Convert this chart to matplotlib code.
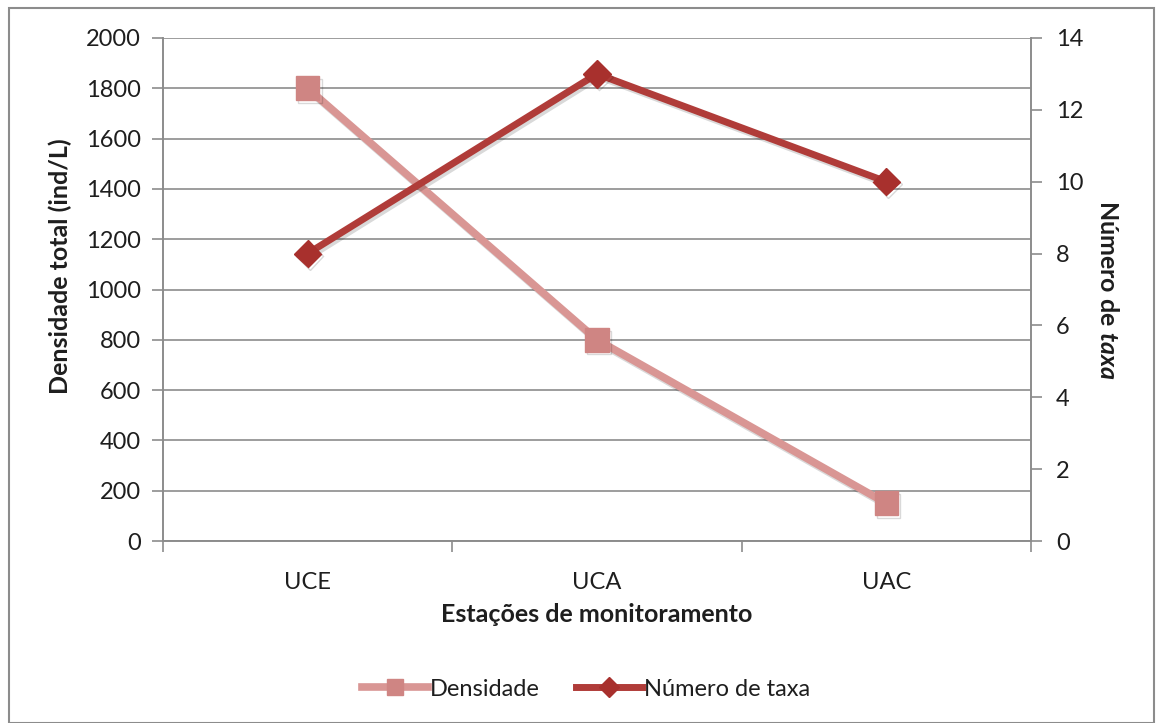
import matplotlib
matplotlib.use("Agg")
import matplotlib.pyplot as plt
import matplotlib.patheffects as pe
from matplotlib.patches import Rectangle
from matplotlib.lines import Line2D

plt.rcParams['font.family'] = ['Lato', 'DejaVu Sans']
plt.rcParams['mathtext.fontset'] = 'custom'
plt.rcParams['mathtext.it'] = 'Lato:bold:italic'
plt.rcParams['mathtext.rm'] = 'Lato:bold'

estacoes = ['UCE', 'UCA', 'UAC']
densidade = [1800, 800, 150]
num_taxa = [8, 13, 10]

c_dens_line = '#D99694'
c_dens_mark = '#CF8583'
c_taxa_line = '#B03C39'
c_taxa_mark = '#A8302D'
grid_c = '#8C8C8C'
txt_c = '#1E1E1E'
fs = 17

fig = plt.figure(figsize=(11.56, 7.23), dpi=100)
fig.patches.append(Rectangle((9 / 1156, 0.0), 1 - 9 / 1156 - 0.002, 1 - 8 / 723,
                             transform=fig.transFigure, fill=False,
                             edgecolor='#8C8C8C', linewidth=1.5))

ax = fig.add_axes([163 / 1156, 1 - 541 / 723, (1031 - 163) / 1156, (541 - 38) / 723])
ax2 = ax.twinx()

x = range(len(estacoes))
shadow = [pe.SimpleLineShadow(offset=(1.5, -2), alpha=0.15), pe.Normal()]

ax.plot(x, densidade, color=c_dens_line, lw=5.5, marker='s', markersize=17,
        markerfacecolor=c_dens_mark, markeredgecolor=c_dens_mark, zorder=3,
        path_effects=shadow)
ax2.plot(x, num_taxa, color=c_taxa_line, lw=5, marker='D', markersize=14,
         markerfacecolor=c_taxa_mark, markeredgecolor=c_taxa_mark, zorder=3,
         path_effects=shadow)

ax.set_xlim(-0.5, 2.5)
ax.set_ylim(0, 2000)
ax.set_yticks(range(0, 2001, 200))
ax2.set_ylim(0, 14)
ax2.set_yticks(range(0, 15, 2))

ax.set_xticks(list(x))
ax.set_xticklabels(estacoes)
ax.set_xticks([-0.5, 0.5, 1.5, 2.5], minor=True)
ax.tick_params(axis='x', which='major', length=0, pad=22, labelsize=fs, labelcolor=txt_c)
ax.tick_params(axis='x', which='minor', length=8, width=1.2, color=grid_c, direction='out')
ax.tick_params(axis='y', length=8, width=1.2, color=grid_c, direction='out',
               pad=8, labelsize=fs, labelcolor=txt_c)
ax2.tick_params(axis='y', length=8, width=1.2, color=grid_c, direction='out',
                pad=10, labelsize=fs, labelcolor=txt_c)

ax.grid(axis='y', color=grid_c, lw=1.2)
ax.set_axisbelow(True)
for a in (ax, ax2):
    a.spines['top'].set_visible(False)
    for s in ('left', 'right', 'bottom'):
        a.spines[s].set_color(grid_c)
        a.spines[s].set_linewidth(1.2)

fig.text(60 / 1156, 1 - 266 / 723, 'Densidade total (ind/L)', rotation=90,
         ha='center', va='center', fontsize=18, fontweight='bold', color=txt_c)
fig.text(1108 / 1156, 1 - 290 / 723, r'Número de $taxa$', rotation=270,
         ha='center', va='center', fontsize=18, fontweight='bold', color=txt_c)
fig.text(597 / 1156, 1 - 614 / 723, 'Estações de monitoramento',
         ha='center', va='center', fontsize=18, fontweight='bold', color=txt_c)

handles = [
    Line2D([], [], color=c_dens_line, lw=5.5, marker='s', markersize=12,
           markerfacecolor=c_dens_mark, markeredgecolor=c_dens_mark),
    Line2D([], [], color=c_taxa_line, lw=5, marker='D', markersize=10,
           markerfacecolor=c_taxa_mark, markeredgecolor=c_taxa_mark),
]
fig.legend(handles, ['Densidade', 'Número de taxa'], loc='center',
           bbox_to_anchor=(586 / 1156, 1 - 689 / 723), ncol=2, frameon=False,
           fontsize=fs, handlelength=2.8, handletextpad=0.1, columnspacing=1.5,
           labelcolor=txt_c)

fig.savefig('out.png', dpi=100)
